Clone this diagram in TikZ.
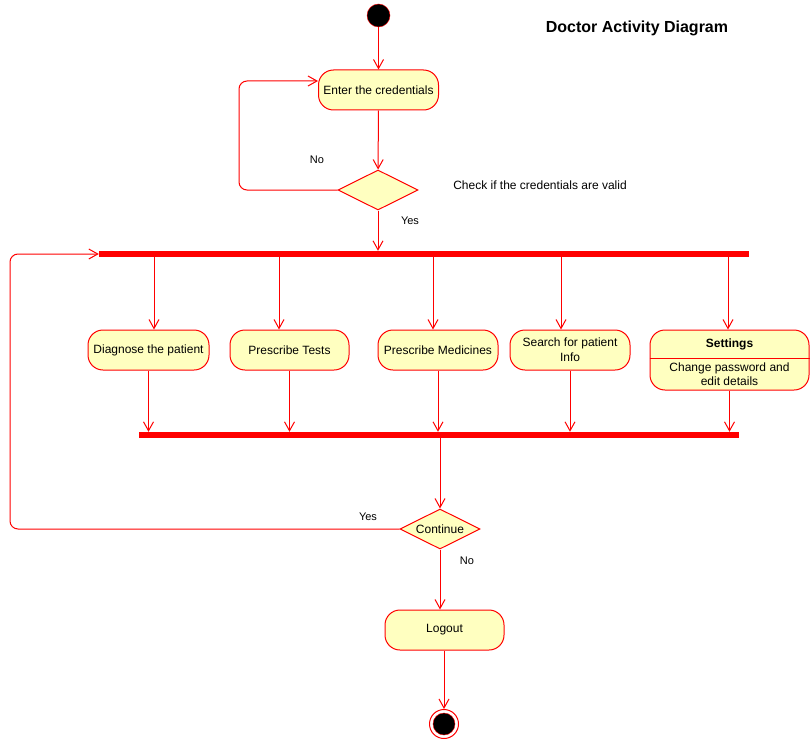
\documentclass[tikz,border=0pt]{standalone}
\usepackage{fontspec}
\setmainfont{Liberation Sans}
\usetikzlibrary{arrows.meta,shapes.geometric}
\definecolor{umlred}{HTML}{FF0000}
\definecolor{umlyellow}{HTML}{FFFFC0}
\tikzset{
	act/.style={draw=umlred, fill=umlyellow, rectangle, rounded corners=15pt,
		minimum width=120, minimum height=40, line width=1pt, align=center,
		font=\fontsize{12}{15}\selectfont},
	dec/.style={draw=umlred, fill=umlyellow, diamond, aspect=2, inner sep=0pt,
		minimum width=80, minimum height=40, line width=1pt,
		font=\fontsize{12}{14}\selectfont},
	bar/.style={fill=umlred, rectangle, inner sep=0pt, minimum height=6},
	flow/.style={draw=umlred, line width=1pt, -{Straight Barb[length=9pt,width=10pt]}},
	lbl/.style={inner sep=0pt, font=\fontsize{11}{13}\selectfont},
}
\begin{document}
\begin{tikzpicture}[x=1pt, y=-1pt]
	\useasboundingbox (0,0) rectangle (810,741);
	\node[font=\fontsize{16}{18}\selectfont\bfseries] (title) at (637,28)
	{Doctor Activity Diagram};
	\node[circle, fill=black, draw=umlred, minimum size=23, inner sep=0pt] (I) at (378.5,15.5) {};
	\node[act] (E) at (378.5,90) {Enter the credentials};
	\node[dec] (C) at (378,190) {};
	\node[lbl, font=\fontsize{12}{14}\selectfont] (Ctxt) at (540,185)
	{Check if the credentials are valid};
	\node[bar, minimum width=650] (F) at (424,254) {};
	\node[act, minimum width=121] (D) at (148.5,350) {Diagnose the patient};
	\node[act, minimum width=119] (PT) at (289.5,350) {Prescribe Tests};
	\node[act] (PM) at (438,350) {Prescribe Medicines};
	\node[act, font=\fontsize{12}{15}\selectfont] (S) at (570,350)
	{Search for patient\\Info};
	\node[act, minimum width=159, minimum height=60] (ST) at (729.5,360) {};
	\node[font=\fontsize{12}{14}\selectfont\bfseries] (STh) at (729.5,344.5) {Settings};
	\node[align=center, inner sep=0pt, font=\fontsize{12}{14}\selectfont] (STb) at (729.5,374.5)
	{Change password and\\edit details};
	\node[bar, minimum width=600] (J) at (439,435) {};
	\node[dec] (CO) at (440,529) {Continue};
	\node[act, minimum width=119] (L) at (444.5,630) {Logout};
	\node[circle, draw=umlred, line width=1pt, minimum size=29, inner sep=0pt] (Fin) at (444,724) {};
	\node[circle, fill=black, draw=umlred, minimum size=22, inner sep=0pt] (FinIn) at (Fin) {};

	% login
	\draw[flow] (I) -- (E);
	\draw[flow] (E) -- (C);
	\draw[flow, rounded corners=8pt] (C.west) -- (239,190 |- C.west) |- ([yshift=9pt]E.west);
	\node[lbl] (no1) at (317,160) {No};
	\draw[flow] (C.south) -- (C.south |- F.north);
	\node[lbl] (yes1) at (410,221) {Yes};

	% fork
	\draw[flow] (154,0 |- F.south) -- (154,0 |- D.north);
	\draw[flow] (279,0 |- F.south) -- (279,0 |- PT.north);
	\draw[flow] (433,0 |- F.south) -- (433,0 |- PM.north);
	\draw[flow] (561,0 |- F.south) -- (561,0 |- S.north);
	\draw[flow] (728,0 |- F.south) -- (728,0 |- ST.north);
	\draw[umlred, line width=1pt] ([yshift=-29pt]ST.north west) -- ([yshift=-29pt]ST.north east);

	% join
	\draw[flow] (D.south) -- (D.south |- J.north);
	\draw[flow] (PT.south) -- (PT.south |- J.north);
	\draw[flow] (PM.south) -- (PM.south |- J.north);
	\draw[flow] (S.south) -- (S.south |- J.north);
	\draw[flow] (ST.south) -- (ST.south |- J.north);
	\draw[flow] (CO.north |- J.south) -- (CO.north);

	% continue
	\draw[flow, rounded corners=8pt] (CO.west) -- (10,0 |- CO.west) |- (F.west);
	\node[lbl] (yes2) at (368,517) {Yes};
	\draw[flow] (CO.south) -- (CO.south |- L.north);
	\node[lbl] (no2) at (467,561) {No};
	\draw[flow] (L.south -| Fin.north) -- (Fin.north);
\end{tikzpicture}
\end{document}
